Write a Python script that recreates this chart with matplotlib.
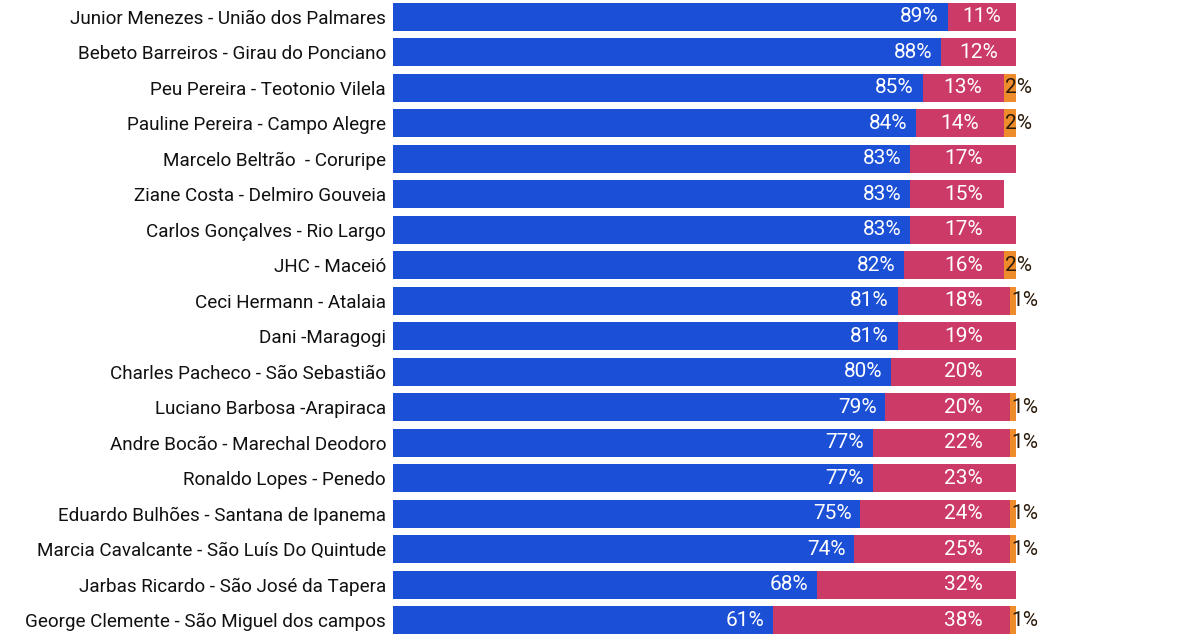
import matplotlib
matplotlib.use("Agg")
from matplotlib import pyplot as plt

# candidates (top to bottom) and vote shares
nomes = [
    "Junior Menezes - União dos Palmares",
    "Bebeto Barreiros - Girau do Ponciano",
    "Peu Pereira - Teotonio Vilela",
    "Pauline Pereira - Campo Alegre",
    "Marcelo Beltrão  - Coruripe",
    "Ziane Costa - Delmiro Gouveia",
    "Carlos Gonçalves - Rio Largo",
    "JHC - Maceió",
    "Ceci Hermann - Atalaia",
    "Dani -Maragogi",
    "Charles Pacheco - São Sebastião",
    "Luciano Barbosa -Arapiraca",
    "Andre Bocão - Marechal Deodoro",
    "Ronaldo Lopes - Penedo",
    "Eduardo Bulhões - Santana de Ipanema",
    "Marcia Cavalcante - São Luís Do Quintude",
    "Jarbas Ricardo - São José da Tapera",
    "George Clemente - São Miguel dos campos",
]
azul = [89, 88, 85, 84, 83, 83, 83, 82, 81, 81, 80, 79, 77, 77, 75, 74, 68, 61]
rosa = [11, 12, 13, 14, 17, 15, 17, 16, 18, 19, 20, 20, 22, 23, 24, 25, 32, 38]
laranja = [0, 0, 2, 2, 0, 0, 0, 2, 1, 0, 0, 1, 1, 0, 1, 1, 0, 1]

cor_azul = "#1a4fd6"
cor_rosa = "#cc3a68"
cor_laranja = "#ee8c2c"

plt.rcParams["font.family"] = ["Roboto", "DejaVu Sans"]

fig = plt.figure(figsize=(12, 6.38), dpi=100)
ax = fig.add_axes([0.3275, 0, 0.5192, 1])

y = list(range(len(nomes)))
h = 0.79
ax.barh(y, azul, height=h, color=cor_azul)
ax.barh(y, rosa, left=azul, height=h, color=cor_rosa)
base_lar = [a + r for a, r in zip(azul, rosa)]
ax.barh(y, laranja, left=base_lar, height=h, color=cor_laranja)

for i in y:
    ax.text(azul[i] - 1.4, i, "{}%".format(azul[i]), ha="right", va="center",
            color="white", fontsize=15)
    if rosa[i] < 15:
        # narrow pink segment: centre the label in it
        ax.text(azul[i] + rosa[i] / 2, i, "{}%".format(rosa[i]), ha="center",
                va="center", color="white", fontsize=15)
    else:
        fim = max(base_lar[i] + laranja[i], 100)
        ax.text(fim - 5.3, i, "{}%".format(rosa[i]), ha="right", va="center",
                color="white", fontsize=15)
    if laranja[i]:
        ax.text(base_lar[i] + 0.2, i, "{}%".format(laranja[i]),
                ha="left", va="center", color="#2a1a0a", fontsize=15)

ax.set_xlim(0, 100)
ax.set_ylim(17.507, -0.479)
ax.set_yticks(y)
ax.set_yticklabels(nomes, fontsize=13.6, color="#111111")
ax.tick_params(axis="y", length=0, pad=5)
ax.set_xticks([])
for s in ax.spines.values():
    s.set_visible(False)

fig.savefig("out.png", dpi=100)
